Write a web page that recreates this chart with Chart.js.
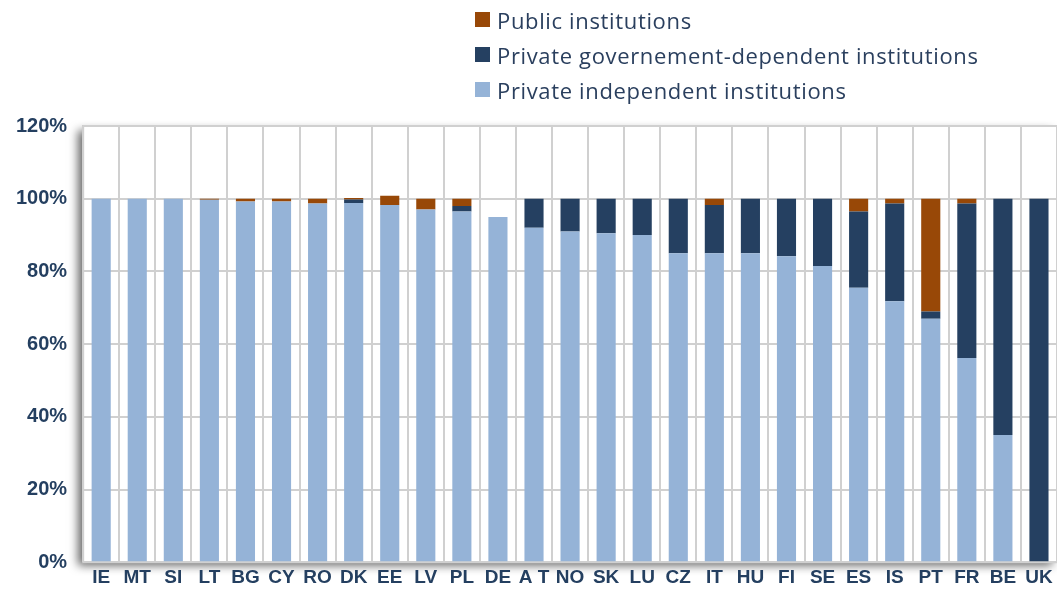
<!DOCTYPE html>
<html>
<head>
<meta charset="utf-8">
<script src="https://cdn.jsdelivr.net/npm/chart.js@4.4.1/dist/chart.umd.min.js"></script>
<style>
  html, body { margin: 0; padding: 0; background: #fff; }
  #wrap { position: relative; width: 1057px; height: 593px; }
  #legend { position: absolute; left: 475px; top: 2px; font-family: "Open Sans", sans-serif; font-size: 22px; letter-spacing: 0.65px; color: #2a3f5e; }
  #legend div { height: 35px; line-height: 30px; display: flex; align-items: center; }
  #legend span.box { display: inline-block; width: 15px; height: 15px; margin-right: 7px; }
</style>
</head>
<body>
<div id="wrap">
  <canvas id="myChart" width="1057" height="593"></canvas>
  <div id="legend"></div>
</div>
<script>
const countries = ['IE', 'MT', 'SI', 'LT', 'BG', 'CY', 'RO', 'DK', 'EE', 'LV', 'PL', 'DE', 'A T', 'NO', 'SK', 'LU', 'CZ', 'IT', 'HU', 'FI', 'SE', 'ES', 'IS', 'PT', 'FR', 'BE', 'UK'];

// share of students by type of institution, %
const privateIndependent = [100, 100, 100, 99.7, 99.2, 99.2, 98.7, 98.8, 98.3, 97, 96.5, 95, 92, 91, 90.5, 90, 85, 85, 85, 84.2, 81.5, 75.5, 71.8, 67, 56.2, 35, 0];
const privateGovDependent = [0, 0, 0, 0, 0, 0, 0, 1, 0, 0, 1.5, 0, 8, 9, 9.5, 10, 15, 13.3, 15, 15.8, 18.5, 21, 26.9, 2, 42.5, 65, 100];
const publicInst = [0, 0, 0, 0.3, 0.8, 0.8, 1.3, 0.4, 2.5, 3, 2, 0, 0, 0, 0, 0, 0, 1.7, 0, 0, 0, 3.5, 1.3, 31, 1.3, 0, 0];

const yTicks = [0, 20, 40, 60, 80, 100, 120];

const ctx = document.getElementById('myChart');

// white plot area with a soft shadow to the lower left
const plotShadow = {
  id: 'plotShadow',
  beforeDraw(chart) {
    const a = chart.chartArea;
    const c = chart.ctx;
    c.save();
    c.shadowColor = 'rgba(0,0,0,0.6)';
    c.shadowBlur = 9;
    c.shadowOffsetX = -5;
    c.shadowOffsetY = 4;
    c.fillStyle = '#fff';
    c.fillRect(a.left, a.top, a.right - a.left, a.bottom - a.top);
    c.restore();
    c.save();
    c.strokeStyle = '#c8c8c8';
    c.lineWidth = 2;
    c.strokeRect(a.left, a.top, a.right - a.left, a.bottom - a.top);
    c.restore();
  }
};

const chart = new Chart(ctx, {
  type: 'bar',
  data: {
    labels: countries,
    datasets: [
      { label: 'Private independent institutions', data: privateIndependent, backgroundColor: '#95b3d7', borderWidth: 0 },
      { label: 'Private governement-dependent institutions', data: privateGovDependent, backgroundColor: '#254061', borderWidth: 0 },
      { label: 'Public institutions', data: publicInst, backgroundColor: '#984807', borderWidth: 0 }
    ]
  },
  options: {
    responsive: false,
    animation: false,
    layout: { padding: { top: 126, left: 0, right: 0, bottom: 0 } },
    datasets: { bar: { barPercentage: 0.53, categoryPercentage: 1 } },
    plugins: {
      legend: { display: false },
      tooltip: { enabled: false }
    },
    scales: {
      x: {
        stacked: true,
        grid: { color: '#d0d0d0', lineWidth: 2, drawTicks: false, offset: true },
        border: { display: false },
        ticks: { color: '#243f60', font: { family: 'Liberation Sans, Arial', size: 19, weight: 'bold' }, padding: 4, maxRotation: 0, autoSkip: false }
      },
      y: {
        stacked: true,
        min: 0,
        max: 120,
        afterBuildTicks(axis) { axis.ticks = yTicks.map(v => ({ value: v })); },
        grid: { color: '#d0d0d0', lineWidth: 2, drawTicks: false },
        border: { display: false },
        ticks: {
          color: '#243f60',
          font: { family: 'Liberation Sans, Arial', size: 20, weight: 'bold' },
          padding: 16,
          callback: v => v + '%'
        }
      }
    }
  },
  plugins: [plotShadow]
});

// legend: one item per line, top dataset first
const legendEl = document.getElementById('legend');
chart.data.datasets.slice().reverse().forEach(ds => {
  const row = document.createElement('div');
  const box = document.createElement('span');
  box.className = 'box';
  box.style.background = ds.backgroundColor;
  row.appendChild(box);
  row.appendChild(document.createTextNode(ds.label));
  legendEl.appendChild(row);
});
</script>
</body>
</html>
